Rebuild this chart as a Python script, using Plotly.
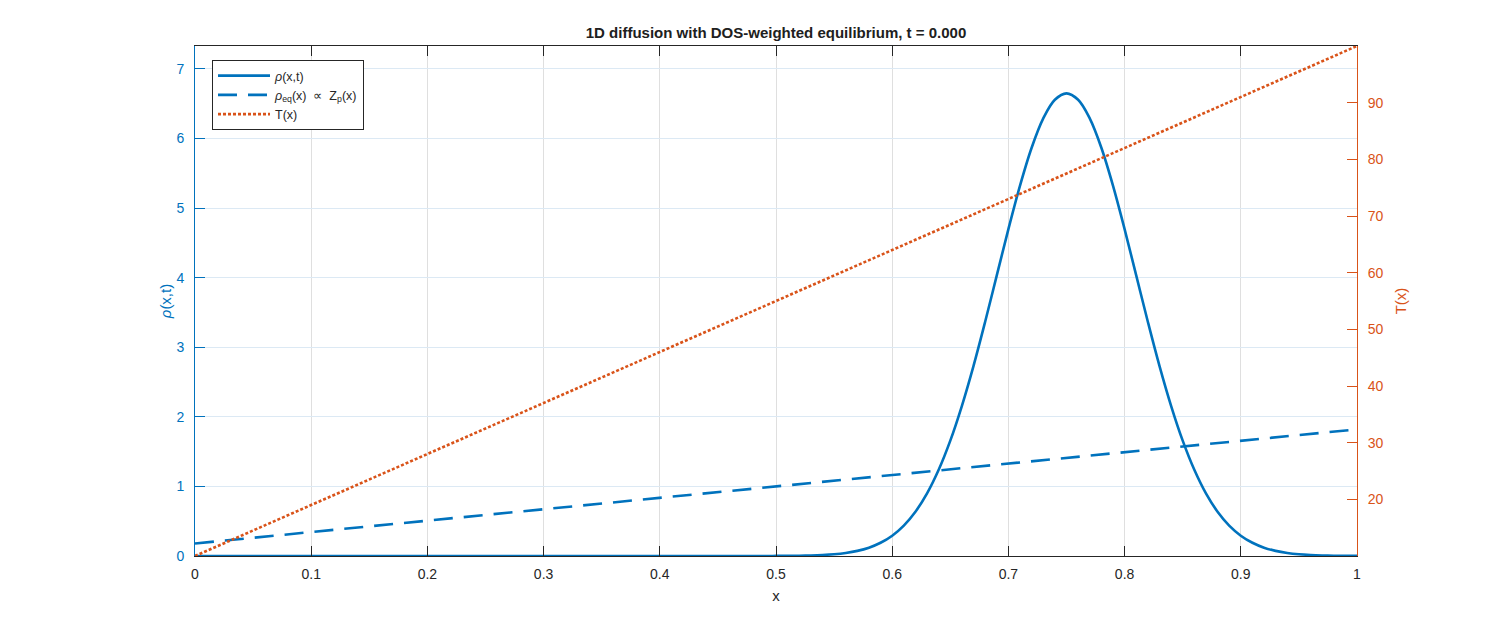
import plotly.graph_objects as go

# ---- data ----
rho_x = [0.0, 0.49,
         0.50, 0.51, 0.52, 0.53, 0.54, 0.55, 0.56, 0.57, 0.58, 0.59,
         0.60, 0.61, 0.62, 0.63, 0.64, 0.65, 0.66, 0.67, 0.68, 0.69,
         0.70, 0.71, 0.72, 0.73, 0.74, 0.75, 0.76, 0.77, 0.78, 0.79,
         0.80, 0.81, 0.82, 0.83, 0.84, 0.85, 0.86, 0.87, 0.88, 0.89,
         0.90, 0.91, 0.92, 0.93, 0.94, 0.95, 0.96, 0.97, 0.98, 0.99, 1.00]
rho_vals = [0.0, 0.0005,
            0.0011, 0.0022, 0.0043, 0.0080, 0.0146, 0.0257, 0.0442, 0.0739, 0.120, 0.190,
            0.292, 0.437, 0.636, 0.900, 1.239, 1.658, 2.159, 2.733, 3.367, 4.033,
            4.698, 5.324, 5.868, 6.290, 6.557, 6.649, 6.557, 6.290, 5.868, 5.324,
            4.698, 4.033, 3.367, 2.733, 2.159, 1.658, 1.239, 0.900, 0.636, 0.437,
            0.292, 0.190, 0.120, 0.0739, 0.0442, 0.0257, 0.0146, 0.0080, 0.0043, 0.0022, 0.0011]

eq_x = [0.0, 1.0]
eq_vals = [0.18, 1.82]

T_x = [0.0, 1.0]
T_vals = [10.0, 100.0]

x_ticks = [0, 0.1, 0.2, 0.3, 0.4, 0.5, 0.6, 0.7, 0.8, 0.9, 1]
x_ticklabels = ["0", "0.1", "0.2", "0.3", "0.4", "0.5", "0.6", "0.7", "0.8", "0.9", "1"]
y_ticks = [0, 1, 2, 3, 4, 5, 6, 7]
y2_ticks = [20, 30, 40, 50, 60, 70, 80, 90]

BLUE = "#0072BD"
ORANGE = "#D95319"
DARK = "#262626"
FONT = "Liberation Sans, Arial, sans-serif"

fig = go.Figure()
fig.add_trace(go.Scatter(x=rho_x, y=rho_vals, mode="lines", name="<i>ρ</i>(x,t)",
                         line=dict(color=BLUE, width=2.6, shape="spline", smoothing=1.0)))
fig.add_trace(go.Scatter(x=eq_x, y=eq_vals, mode="lines",
                         name="<i>ρ</i><sub>eq</sub>(x)  ∝  Z<sub>p</sub>(x)",
                         line=dict(color=BLUE, width=2.6, dash="19px,11px")))
fig.add_trace(go.Scatter(x=T_x, y=T_vals, mode="lines", name="T(x)", yaxis="y2",
                         line=dict(color=ORANGE, width=2.6, dash="3px,2px")))

# page offset of ~8px: plot area targeted at x 195..1357, y 46..556 in the screenshot
fig.update_layout(
    width=1500, height=625,
    margin=dict(l=187, r=151, t=38, b=77),
    paper_bgcolor="white", plot_bgcolor="white",
    font=dict(family=FONT, size=14, color=DARK),
    title=dict(text="<b>1D diffusion with DOS-weighted equilibrium, t = 0.000</b>",
               x=(187 + 1349) / 2 / 1500, xanchor="center", y=1 - 25 / 625, yanchor="middle",
               font=dict(size=15, color="#202020")),
    showlegend=True,
    legend=dict(x=(212 - 195) / 1162, y=(556 - 60) / 510, xanchor="left", yanchor="top",
                bgcolor="white", bordercolor=DARK, borderwidth=1,
                font=dict(size=12.5, color=DARK), itemwidth=52, tracegroupgap=0),
    xaxis=dict(range=[0, 1], tickvals=x_ticks, ticktext=x_ticklabels,
               showline=True, linecolor=DARK, linewidth=1, mirror="ticks",
               ticks="inside", ticklen=10, tickcolor=DARK,
               showgrid=True, gridcolor="#DFDFDF", gridwidth=1, zeroline=False,
               tickfont=dict(size=14, color=DARK), ticklabelstandoff=5,
               title=dict(text="x", font=dict(size=15, color=DARK), standoff=9)),
    yaxis=dict(range=[0, 7.33], tickvals=y_ticks,
               showline=True, linecolor=BLUE, linewidth=1,
               ticks="inside", ticklen=10, tickcolor=BLUE,
               showgrid=True, gridcolor="#DCE9F4", gridwidth=1, zeroline=False,
               tickfont=dict(size=14, color=BLUE), ticklabelstandoff=7,
               title=dict(text="<i>ρ</i>(x,t)", font=dict(size=15, color=BLUE), standoff=1)),
    yaxis2=dict(range=[10, 100], tickvals=y2_ticks, overlaying="y", side="right",
                showline=True, linecolor=ORANGE, linewidth=1,
                ticks="inside", ticklen=10, tickcolor=ORANGE,
                showgrid=False, zeroline=False,
                tickfont=dict(size=14, color=ORANGE), ticklabelstandoff=7,
                title=dict(text="T(x)", font=dict(size=15, color=ORANGE), standoff=12)),
)

fig.write_html("out.html")
